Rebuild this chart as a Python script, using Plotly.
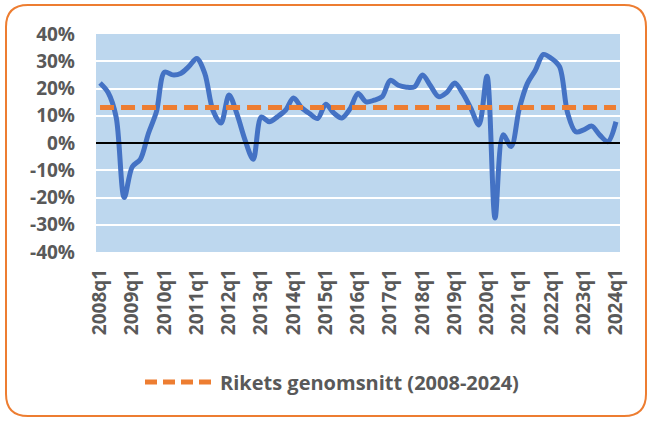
import plotly.graph_objects as go

years = list(range(2008, 2025))
quarters = [f"{y}q{q}" for y in years for q in range(1, 5)][:65]  # 2008q1 .. 2024q1

growth = [22, 18.5, 9.5, -20, -8.7, -6, 3.5, 11.5, 26, 25, 25.5, 28, 31, 25.5,
          12, 7.3, 17.6, 10.5, 1, -6, 9.5, 7.8, 9.6, 12, 16.5, 13, 10.8, 9,
          14.2, 11, 9.2, 12.5, 18.2, 15.1, 15.7, 17, 23, 21.2, 20.5, 20.6, 25,
          21, 17, 18.5, 22, 18.2, 12.7, 6.6, 24.5, -27.5, 3, -1.3, 12.5, 21.8,
          26.7, 32.5, 31, 28, 11, 4.1, 4.8, 6.2, 2.9, 0.5, 7.8]
average = 13.0
average_series = [average] * len(quarters)

y_ticks = [-40, -30, -20, -10, 0, 10, 20, 30, 40]
y_ticktext = [f"{v}%" for v in y_ticks]
x_ticks = [q for q in quarters if q.endswith("q1")]

legend_label = "Rikets genomsnitt (2008-2024)"

W, H = 652, 421
ML, MR, MT, MB = 96, 32, 34, 169
PW, PH = W - ML - MR, H - MT - MB


def px(x):
    return (x - ML) / PW


def py(y):
    return (H - MB - y) / PH


GREY = "#595959"
ORANGE = "#ED7D31"
BLUE = "#4472C4"

fig = go.Figure()
fig.add_trace(go.Scatter(x=quarters, y=growth, mode="lines",
                         line=dict(color=BLUE, width=5, shape="spline", smoothing=0.9),
                         showlegend=False, name="Tillväxt"))
fig.add_trace(go.Scatter(x=quarters, y=average_series, mode="lines",
                         line=dict(color=ORANGE, width=5, dash="14px,7px"),
                         showlegend=False, name=legend_label))

# rounded border
x0, y0, x1, y1, r = 6, 5, 646, 416, 22
path = (f"M {px(x0+r)},{py(y0)} L {px(x1-r)},{py(y0)} Q {px(x1)},{py(y0)} {px(x1)},{py(y0+r)} "
        f"L {px(x1)},{py(y1-r)} Q {px(x1)},{py(y1)} {px(x1-r)},{py(y1)} "
        f"L {px(x0+r)},{py(y1)} Q {px(x0)},{py(y1)} {px(x0)},{py(y1-r)} "
        f"L {px(x0)},{py(y0+r)} Q {px(x0)},{py(y0)} {px(x0+r)},{py(y0)} Z")
shapes = [
    dict(type="path", xref="paper", yref="paper", path=path,
         line=dict(color=ORANGE, width=2), layer="below"),
    dict(type="line", xref="paper", yref="y", x0=0, x1=1, y0=0, y1=0,
         line=dict(color="black", width=2), layer="above"),
    dict(type="line", xref="paper", yref="paper", x0=px(145), x1=px(213),
         y0=py(382), y1=py(382), line=dict(color=ORANGE, width=5, dash="12px,6px")),
]

fig.update_layout(
    width=W, height=H,
    margin=dict(l=ML, r=MR, t=MT, b=MB),
    paper_bgcolor="white", plot_bgcolor="#BDD7EE",
    font=dict(family="Open Sans", size=19, color=GREY, weight="bold"),
    shapes=shapes,
    annotations=[dict(xref="paper", yref="paper", x=px(218), y=py(382),
                      xanchor="left", yanchor="middle", showarrow=False,
                      text=legend_label,
                      font=dict(family="Open Sans", size=20, color=GREY, weight="bold"))],
    showlegend=False,
)
fig.update_xaxes(type="category", range=[-0.5, len(quarters) - 0.5],
                 tickmode="array", tickvals=x_ticks, ticktext=x_ticks,
                 tickangle=-90, showgrid=False, ticks="", ticklabelstandoff=12,
                 tickfont=dict(size=19, weight="bold", color=GREY))
fig.update_yaxes(range=[-40, 40], tickmode="array", tickvals=y_ticks, ticktext=y_ticktext,
                 showgrid=True, gridcolor="white", gridwidth=2, zeroline=False,
                 ticks="", ticklabelstandoff=20,
                 tickfont=dict(size=19, weight="bold", color=GREY))

fig.write_html("out.html", config={"displayModeBar": False},
               post_script="document.body.style.margin='0';document.body.style.overflow='hidden';")
